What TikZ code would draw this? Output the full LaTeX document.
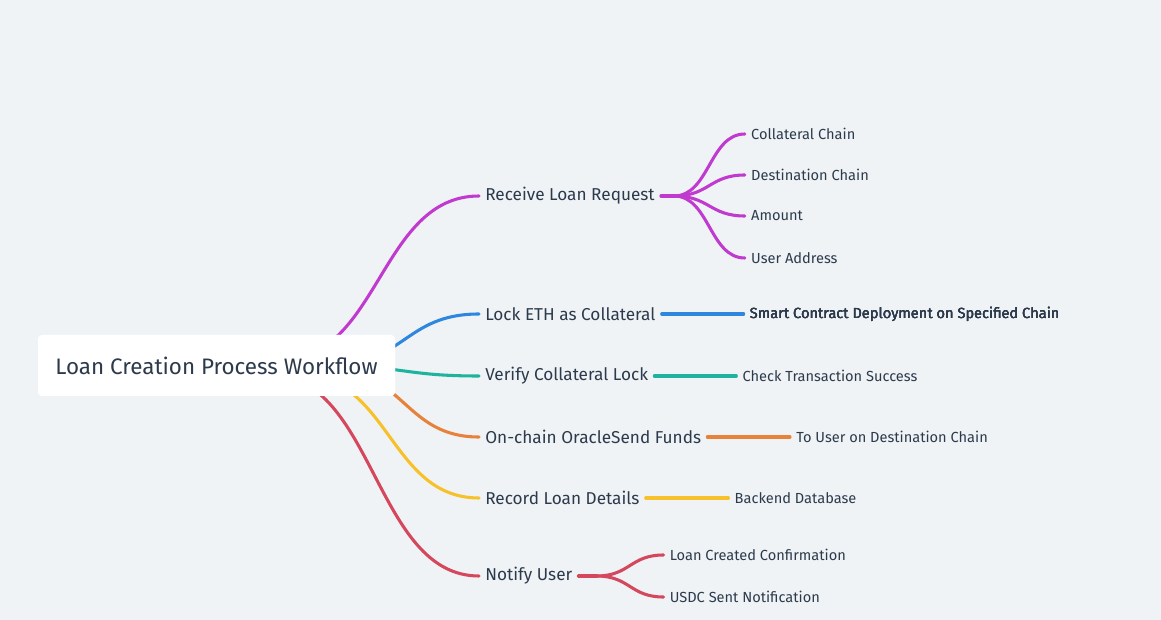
\documentclass[tikz,border=0pt]{standalone}
\usepackage{fontspec}
\setmainfont{Fira Sans}
\usetikzlibrary{calc,positioning}
\definecolor{paper}{HTML}{EFF3F6}
\definecolor{ink}{HTML}{2C3A4B}
\definecolor{cpurple}{HTML}{C03ACF}
\definecolor{cblue}{HTML}{2E86DE}
\definecolor{cteal}{HTML}{1EB39E}
\definecolor{corange}{HTML}{E8813A}
\definecolor{cyellow}{HTML}{F6C12A}
\definecolor{cred}{HTML}{D5475C}
\tikzset{
  branch/.style = {line width=2.3pt, line cap=round},
  topic/.style  = {anchor=west, inner xsep=4.5pt, inner ysep=0pt, text=ink,
                   font=\fontsize{12.9}{15}\selectfont},
  leaf/.style   = {anchor=west, inner xsep=4.5pt, inner ysep=0pt, text=ink,
                   font=\fontsize{10.95}{13}\selectfont},
  rootbox/.style = {fill=white, rounded corners=3pt, minimum width=267.75pt,
                   minimum height=45.75pt, text=ink, font=\fontsize{16.8}{20}\selectfont}
}
% curved branch with flat ends
\newcommand{\twig}[3]{%
  \draw[branch,#1] let \p1=(#2), \p2=(#3) in
    (\p1) .. controls ({(\x1+\x2)/2},\y1) and ({(\x1+\x2)/2},\y2) .. (\p2);}

\begin{document}
\begin{tikzpicture}[x=0.75pt,y=-0.75pt]
  \fill[paper] (0,0) rectangle (1161,620);
  \useasboundingbox (0,0) rectangle (1161,620);
  % main topics
  \node[topic] (recv)   at (479,196) {Receive Loan Request};
  \node[topic] (lock)   at (479,314) {Lock ETH as Collateral};
  \node[topic] (verify) at (479,376) {Verify Collateral Lock};
  \node[topic] (send)   at (479,437) {On-chain OracleSend Funds};
  \node[topic] (record) at (479,498) {Record Loan Details};
  \node[topic] (notify) at (479,576) {Notify User};
  % roots of the branches, hidden behind the box
  \coordinate (sp) at (280,360);
  \coordinate (sb) at (330,365);
  \coordinate (st) at (330,366);
  \coordinate (so) at (330,370);
  \coordinate (sy) at (300,375);
  \coordinate (sr) at (270,375);
  \twig{cpurple}{sp}{recv.west}
  \twig{cblue}{sb}{lock.west}
  \twig{cteal}{st}{verify.west}
  \twig{corange}{so}{send.west}
  \twig{cyellow}{sy}{record.west}
  \twig{cred}{sr}{notify.west}
  % 1
  \node[leaf] (cchain) at ($(recv.east)+(84,-62)$) {Collateral Chain};
  \node[leaf] (dchain) at ($(recv.east)+(84,-21)$) {Destination Chain};
  \node[leaf] (amount) at ($(recv.east)+(84,20)$)  {Amount};
  \node[leaf] (uaddr)  at ($(recv.east)+(84,62)$)  {User Address};
  \coordinate (kp) at ($(recv.east)+(13,0)$);
  \draw[branch,cpurple] (recv.east) -- (kp);
  \foreach \kid in {cchain,dchain,amount,uaddr}
    \twig{cpurple}{kp}{\kid.west}
  % 2
  \node[leaf, right=61.5pt of lock] (deploy) {Smart Contract Deployment on Specified Chain};
  \draw[branch,cblue] (lock.east) -- (deploy.west);
  % 3
  \node[leaf, right=61.5pt of verify] (check) {Check Transaction Success};
  \draw[branch,cteal] (verify.east) -- (check.west);
  % 4
  \node[leaf, right=62pt of send] (touser) {To User on Destination Chain};
  \draw[branch,corange] (send.east) -- (touser.west);
  % 5
  \node[leaf, right=62pt of record] (backend) {Backend Database};
  \draw[branch,cyellow] (record.east) -- (backend.west);
  % 6
  \node[leaf] (created) at ($(notify.east)+(85,-21)$) {Loan Created Confirmation};
  \node[leaf] (usdc)    at ($(notify.east)+(85,21)$)  {USDC Sent Notification};
  \coordinate (kr) at ($(notify.east)+(18,0)$);
  \draw[branch,cred] (notify.east) -- (kr);
  \foreach \kid in {created,usdc}
    \twig{cred}{kr}{\kid.west}
  % root
  \node[rootbox] (root) at (216.5,365.5) {Loan Creation Process Workflow};
\end{tikzpicture}
\end{document}
